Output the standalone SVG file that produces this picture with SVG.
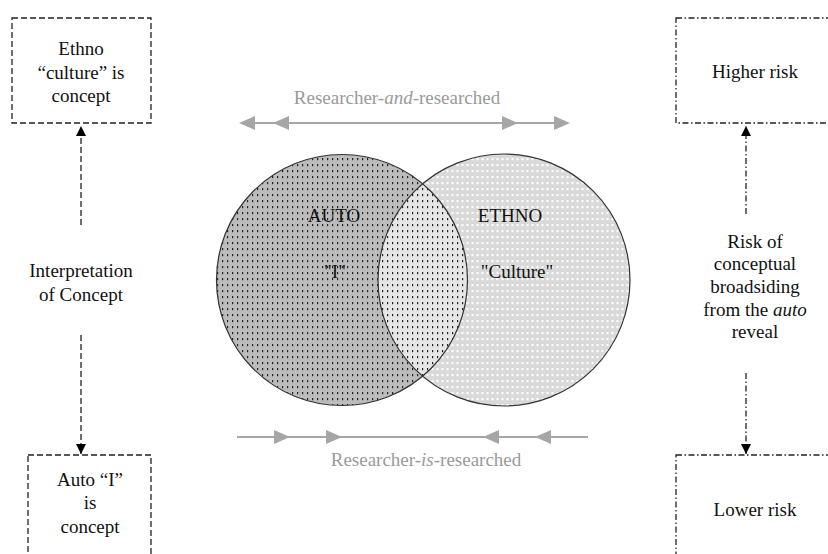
<svg xmlns="http://www.w3.org/2000/svg" width="828" height="554" viewBox="0 0 828 554">
<style>
text{font-family:"Liberation Serif","Times New Roman",serif;font-size:19px;fill:#111;text-anchor:middle}
.g{fill:#9a9a9a}
.dash{fill:none;stroke:#222;stroke-width:1.3;stroke-dasharray:6,3}
.dd{fill:none;stroke:#222;stroke-width:1.3;stroke-dasharray:6,2.5,1.5,2.5}
.garr{stroke:#a6a6a6;stroke-width:1.8;fill:none}
.gh{fill:#a6a6a6}
</style>
<defs>
<pattern id="pd" width="5" height="6" patternUnits="userSpaceOnUse">
<rect width="5" height="6" fill="#bcbcbc"/>
<rect x="2" y="2" width="1.2" height="2.2" fill="#222"/>
</pattern>
<pattern id="pl" width="5" height="6" patternUnits="userSpaceOnUse">
<rect width="5" height="6" fill="#d9d9d9"/>
<rect x="1.5" y="2" width="2" height="2.2" fill="#fff"/>
</pattern>
<pattern id="pi" width="5" height="6" patternUnits="userSpaceOnUse">
<rect width="5" height="6" fill="#e6e6e6"/>
<rect x="2" y="2" width="1.2" height="2.2" fill="#222"/>
</pattern>
<clipPath id="cl"><circle cx="342" cy="280" r="125.5"/></clipPath>
<marker id="ah" markerWidth="10" markerHeight="10" refX="10" refY="5" orient="auto" markerUnits="userSpaceOnUse">
<path d="M0,0 L10,5 L0,10 Z" fill="#000"/>
</marker>
</defs>

<g id="connectors">
<line class="dash" x1="81" y1="225" x2="81" y2="126" marker-end="url(#ah)"/>
<line class="dash" x1="81" y1="335" x2="81" y2="454" marker-end="url(#ah)"/>
<line class="dd" x1="746" y1="214" x2="746" y2="126" marker-end="url(#ah)"/>
<line class="dd" x1="746" y1="373" x2="746" y2="454" marker-end="url(#ah)"/>
</g>

<g id="venn">
<circle cx="342" cy="280" r="125.5" fill="url(#pd)"/>
<circle cx="504" cy="280" r="126" fill="url(#pl)"/>
<circle cx="504" cy="280" r="126" fill="url(#pi)" clip-path="url(#cl)"/>
<circle cx="342" cy="280" r="125.5" fill="none" stroke="#333" stroke-width="1.2"/>
<circle cx="504" cy="280" r="126" fill="none" stroke="#333" stroke-width="1.2"/>
<text x="334" y="222">AUTO</text>
<text x="510" y="222">ETHNO</text>
<text x="335" y="278">"I"</text>
<text x="517" y="278">"Culture"</text>
</g>

<g id="top-arrows">
<text class="g" x="397" y="104">Researcher-<tspan font-style="italic">and</tspan>-researched</text>
<line class="garr" x1="245" y1="123" x2="565" y2="123"/>
<path class="gh" d="M239,123 L255,116 L255,130 Z"/>
<path class="gh" d="M273,123 L289,116 L289,130 Z"/>
<path class="gh" d="M518,123 L502,116 L502,130 Z"/>
<path class="gh" d="M570,123 L554,116 L554,130 Z"/>
</g>

<g id="bottom-arrows">
<line class="garr" x1="237" y1="437" x2="588" y2="437"/>
<path class="gh" d="M290,437 L274,430 L274,444 Z"/>
<path class="gh" d="M342,437 L326,430 L326,444 Z"/>
<path class="gh" d="M483,437 L499,430 L499,444 Z"/>
<path class="gh" d="M535,437 L551,430 L551,444 Z"/>
<text class="g" x="426" y="466">Researcher-<tspan font-style="italic">is</tspan>-researched</text>
</g>

<g id="ethno-box">
<rect class="dash" x="12" y="18" width="139" height="105"/>
<text x="81" y="55">Ethno</text>
<text x="81" y="79">“culture” is</text>
<text x="81" y="102">concept</text>
</g>

<g id="interpretation">
<text x="81" y="277">Interpretation</text>
<text x="81" y="301">of Concept</text>
</g>

<g id="auto-box">
<rect class="dash" x="28" y="455" width="123" height="110"/>
<text x="90" y="486">Auto “I”</text>
<text x="90" y="509">is</text>
<text x="90" y="533">concept</text>
</g>

<g id="higher-box">
<rect class="dd" x="676" y="18" width="160" height="105"/>
<text x="755" y="78">Higher risk</text>
</g>

<g id="risk-text">
<text x="755" y="248">Risk of</text>
<text x="755" y="270">conceptual</text>
<text x="755" y="293">broadsiding</text>
<text x="755" y="316">from the <tspan font-style="italic">auto</tspan></text>
<text x="755" y="338">reveal</text>
</g>

<g id="lower-box">
<rect class="dd" x="676" y="455" width="160" height="110"/>
<text x="755" y="516">Lower risk</text>
</g>
</svg>
